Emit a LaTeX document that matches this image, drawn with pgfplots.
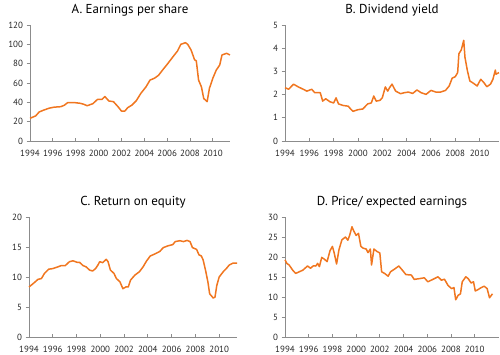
\documentclass[border=0pt]{standalone}
\usepackage{pgfplots}
\pgfplotsset{compat=1.18}
\usepackage{fontspec}
\setmainfont{PT Sans}
\definecolor{lineor}{RGB}{240,118,32}
\definecolor{axgray}{RGB}{140,140,140}
\pgfplotsset{
  panel/.style={
    scale only axis,
    axis lines=left,
    axis line style={-, axgray, line width=0.9bp},
    tick align=outside,
    major tick length=3.5bp,
    tick style={axgray, line width=0.9bp},
    x tick style={yshift=3.5bp},
    xtick={1994,1996,...,2010},
    /pgf/number format/set thousands separator={},
    /pgf/number format/assume math mode=true,
    tick label style={font=\fontsize{9}{10}\selectfont, text=black!85},
    xticklabel style={yshift=-2bp},
    every axis title/.style={at={(0.5,1)}, anchor=base, yshift=11.5bp, font=\fontsize{13}{15}\selectfont},
    xmin=1994, ymin=0,
    clip=false,
  },
  ser/.style={lineor, line width=1.5bp, line join=round, no markers},
}
\begin{document}
\begin{tikzpicture}
\path[use as bounding box] (0,0) rectangle (500bp,-355bp);
% A
\begin{axis}[panel, at={(30bp,-141bp)}, anchor=south west, width=200bp, height=116bp,
  xmax=2011.5, ymax=120, ytick={0,20,...,120}, title={A. Earnings per share}]
\addplot[ser] coordinates {
(1994.0,23.4)(1994.2,24.5)(1994.5,26)(1994.8,30)(1995.2,32)(1995.7,34)(1996.1,35)(1996.7,35.5)(1997.0,37)
(1997.3,39.7)(1997.9,39.7)(1998.4,39)(1998.7,38)(1999.0,36.5)(1999.5,38.6)(1999.9,43)(2000.3,43)(2000.55,46)
(2000.9,41.4)(2001.3,40.7)(2001.7,35.5)(2002.0,31)(2002.3,31)(2002.55,34.5)(2002.9,37)(2003.3,41.7)
(2003.7,49.3)(2004.15,56)(2004.5,63)(2004.9,65)(2005.25,68)(2005.6,73.4)(2006.05,80)(2006.5,87)
(2006.9,93)(2007.2,100)(2007.6,101.7)(2007.8,100)(2008.1,94)(2008.4,84)(2008.55,83)(2008.75,63)
(2009.0,56)(2009.2,44)(2009.5,40.7)(2009.7,54.5)(2010.0,65)(2010.3,73.4)(2010.6,78.6)(2010.8,89)
(2011.2,90.7)(2011.5,89)
};
\end{axis}
% B
\begin{axis}[panel, at={(285bp,-141bp)}, anchor=south west, width=214bp, height=116bp,
  xmax=2011.6, ymax=5, ytick={0,1,...,5}, title={B. Dividend yield}]
\addplot[ser] coordinates {
(1994.0,2.30)(1994.3,2.23)(1994.7,2.45)(1995.1,2.33)(1995.5,2.23)(1995.8,2.15)(1996.2,2.23)(1996.45,2.08)
(1996.9,2.08)(1997.1,1.72)(1997.35,1.82)(1997.7,1.69)(1998.0,1.64)(1998.2,1.86)(1998.4,1.60)(1998.8,1.53)
(1999.2,1.50)(1999.45,1.35)(1999.6,1.28)(2000.0,1.35)(2000.4,1.38)(2000.8,1.60)(2001.1,1.64)(2001.3,1.94)
(2001.5,1.72)(2001.8,1.75)(2002.0,1.86)(2002.25,2.33)(2002.45,2.15)(2002.6,2.30)(2002.8,2.45)(2003.1,2.15)
(2003.5,2.04)(2003.8,2.08)(2004.15,2.11)(2004.5,2.05)(2004.85,2.20)(2005.2,2.08)(2005.6,2.01)(2006.0,2.18)
(2006.4,2.11)(2006.8,2.11)(2007.2,2.18)(2007.5,2.37)(2007.75,2.71)(2008.0,2.77)(2008.2,2.95)(2008.3,3.76)
(2008.5,3.93)(2008.7,4.34)(2008.8,3.61)(2009.0,3.03)(2009.2,2.59)(2009.55,2.47)(2009.8,2.37)(2010.1,2.66)
(2010.35,2.52)(2010.6,2.34)(2010.9,2.45)(2011.1,2.66)(2011.3,3.06)(2011.35,2.88)(2011.6,2.95)
};
\end{axis}
% C
\begin{axis}[panel, at={(29bp,-337bp)}, anchor=south west, width=208bp, height=120bp,
  xmax=2011.5, ymax=20, ytick={0,5,...,20}, title={C. Return on equity}]
\addplot[ser] coordinates {
(1994.0,8.34)(1994.35,8.9)(1994.75,9.6)(1995.05,9.75)(1995.3,10.6)(1995.65,11.3)(1996.0,11.4)(1996.45,11.7)
(1996.7,11.9)(1997.05,11.9)(1997.4,12.55)(1997.7,12.7)(1998.05,12.45)(1998.25,12.45)(1998.55,11.9)(1998.8,11.7)
(1999.1,11.15)(1999.35,11.0)(1999.6,11.4)(1999.8,12.0)(1999.95,12.55)(2000.2,12.4)(2000.5,12.95)(2000.65,12.55)
(2000.85,11.15)(2001.15,10.6)(2001.35,9.75)(2001.65,9.2)(2001.9,8.05)(2002.15,8.34)(2002.35,8.34)(2002.55,9.5)
(2002.9,10.3)(2003.3,10.9)(2003.6,11.7)(2003.9,12.7)(2004.2,13.5)(2004.6,13.85)(2005.0,14.25)(2005.3,14.9)
(2005.7,15.2)(2006.1,15.4)(2006.3,15.9)(2006.7,16.05)(2007.0,15.9)(2007.3,16.1)(2007.55,15.9)(2007.75,14.9)
(2008.1,14.6)(2008.3,13.7)(2008.5,13.5)(2008.65,12.85)(2008.85,11.15)(2009.05,9.2)(2009.2,7.2)(2009.5,6.5)
(2009.65,6.65)(2009.8,8.6)(2010.0,10.0)(2010.35,10.9)(2010.6,11.4)(2010.85,12.0)(2011.15,12.3)(2011.5,12.3)
};
\end{axis}
% D
\begin{axis}[panel, at={(285bp,-337bp)}, anchor=south west, width=214bp, height=120bp,
  xmax=2012.05, ymax=30, ytick={0,5,...,30}, title={D. Price/ expected earnings}]
\addplot[ser] coordinates {
(1994.0,19.3)(1994.15,18.4)(1994.35,18.0)(1994.65,16.7)(1994.9,15.9)(1995.2,16.3)(1995.5,16.7)(1995.9,17.75)
(1996.15,17.2)(1996.4,17.8)(1996.6,17.75)(1996.75,18.4)(1996.9,17.6)(1997.1,19.9)(1997.3,19.5)(1997.55,18.85)
(1997.8,21.6)(1998.0,22.65)(1998.15,21.0)(1998.35,18.25)(1998.55,21.8)(1998.8,24.3)(1999.1,25.0)(1999.3,24.2)
(1999.45,25.4)(1999.65,27.55)(1999.8,26.5)(2000.0,25.4)(2000.2,25.9)(2000.4,22.65)(2000.6,22.2)(2000.85,22.0)
(2001.0,21.1)(2001.2,22.0)(2001.3,18.0)(2001.5,22.0)(2001.75,21.4)(2002.0,21.0)(2002.15,16.3)(2002.4,15.9)
(2002.7,15.2)(2002.9,16.3)(2003.25,17.0)(2003.6,17.75)(2003.9,16.7)(2004.2,15.6)(2004.65,15.5)(2004.9,14.4)
(2005.35,14.6)(2005.75,14.8)(2006.05,13.8)(2006.5,14.45)(2006.9,15.05)(2007.2,14.2)(2007.45,14.45)(2007.75,12.9)
(2008.05,12.1)(2008.25,12.35)(2008.4,9.3)(2008.6,10.4)(2008.8,10.8)(2008.95,13.8)(2009.25,15.05)(2009.45,14.6)
(2009.7,13.5)(2009.9,13.8)(2010.05,11.5)(2010.25,11.8)(2010.55,12.35)(2010.8,12.7)(2011.05,12.1)(2011.25,9.8)
(2011.5,10.8)
};
\end{axis}
\end{tikzpicture}
\end{document}
